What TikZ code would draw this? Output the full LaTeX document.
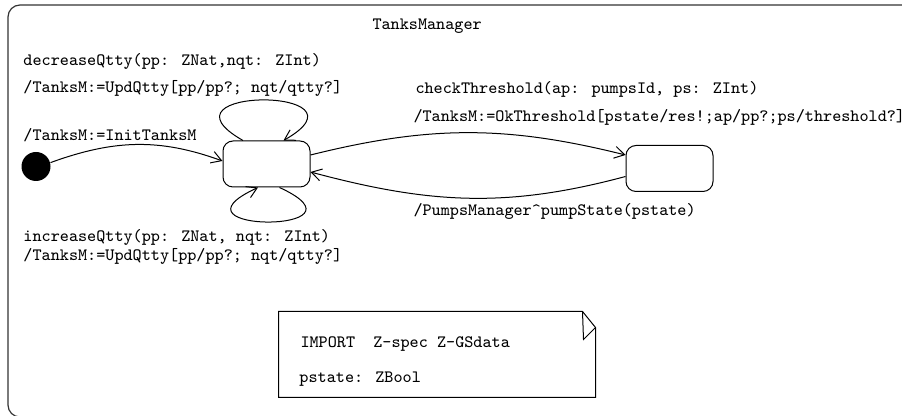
\documentclass[tikz,border=0pt]{standalone}
\usepackage{tikz}
\usetikzlibrary{%
  positioning
 ,arrows.meta
 ,calc
}
\tikzstyle{sm}=[x=0.5pt,y=-0.5pt,line width=0.5pt,>={Straight Barb[length=5pt,width=6pt]}]
\tikzstyle{st}=[rectangle,rounded corners=5pt,draw=black,minimum width=43.5pt,minimum height=23pt,inner sep=0pt]
\tikzstyle{pseudo}=[circle,fill=black,minimum size=14.5pt,inner sep=0pt]
\tikzstyle{lbl}=[anchor=base west,inner sep=0pt,font=\fontsize{8.67}{10}\selectfont\ttfamily]
\tikzstyle{note}=[rectangle,minimum width=158pt,minimum height=42.5pt,inner sep=0pt]

\begin{document}
\begin{tikzpicture}[sm]
  \useasboundingbox (0,0) rectangle (902,416);
  \draw[rounded corners=6pt,black!80,line width=0.6pt] (8,5) rectangle (915,417);
  \node[lbl] (title) at (372,30) {TanksManager};
% states
  \node[pseudo] (i_0) at (36,166.5) {};
  \node[st]     (s_1) at (266.5,164) {};
  \node[st]     (s_2) at (669.5,168.5) {};
% transitions
  \draw[->] (i_0.15) to[out=20,in=160] ([yshift=1.5pt]s_1.west);
  \draw[->] ([xshift=-11.75pt]s_1.north) .. controls +(-47.5pt,27pt) and +(47.5pt,27pt) .. ([xshift=8.5pt]s_1.north);
  \draw[->] ([xshift=6.5pt]s_1.south) .. controls +(50pt,-23pt) and +(-50pt,-23pt) .. ([xshift=-4.25pt]s_1.south);
  \draw[->] ([yshift=4.5pt]s_1.east) to[out=14,in=166] ([yshift=6.75pt]s_2.west);
  \draw[->] ([yshift=-4pt]s_2.west) to[out=195,in=345] ([yshift=-4pt]s_1.east);
% labels
  \node[lbl] (l_dec)    at (23,66)   {decreaseQtty(pp: ZNat,nqt: ZInt)};
  \node[lbl] (l_decact) at (23,93)   {/TanksM:=UpdQtty[pp/pp?; nqt/qtty?]};
  \node[lbl] (l_init)   at (23,141)  {/TanksM:=InitTanksM};
  \node[lbl] (l_inc)    at (23,242)  {increaseQtty(pp: ZNat, nqt: ZInt)};
  \node[lbl] (l_incact) at (23,261)  {/TanksM:=UpdQtty[pp/pp?; nqt/qtty?]};
  \node[lbl] (l_chk)    at (415,94)  {checkThreshold(ap: pumpsId, ps: ZInt)};
  \node[lbl] (l_chkact) at (413,122) {/TanksM:=OkThreshold[pstate/res!;ap/pp?;ps/threshold?]};
  \node[lbl] (l_pump)   at (413,216) {/PumpsManager\textasciicircum pumpState(pstate)};
% note
  \node[note] (n_1) at (437,354.5) {};
  \draw (n_1.north west) -- ([xshift=-6.5pt]n_1.north east) -- ([yshift=-8pt]n_1.north east)
        -- (n_1.south east) -- (n_1.south west) -- cycle;
  \draw ([xshift=-6.5pt]n_1.north east) -- ([xshift=-6pt,yshift=-14pt]n_1.north east)
        -- ([yshift=-8pt]n_1.north east);
  \node[lbl] (l_imp) at (300,348) {IMPORT\ \ Z-spec Z-GSdata};
  \node[lbl] (l_pst) at (299,383) {pstate: ZBool};
\end{tikzpicture}
\end{document}
